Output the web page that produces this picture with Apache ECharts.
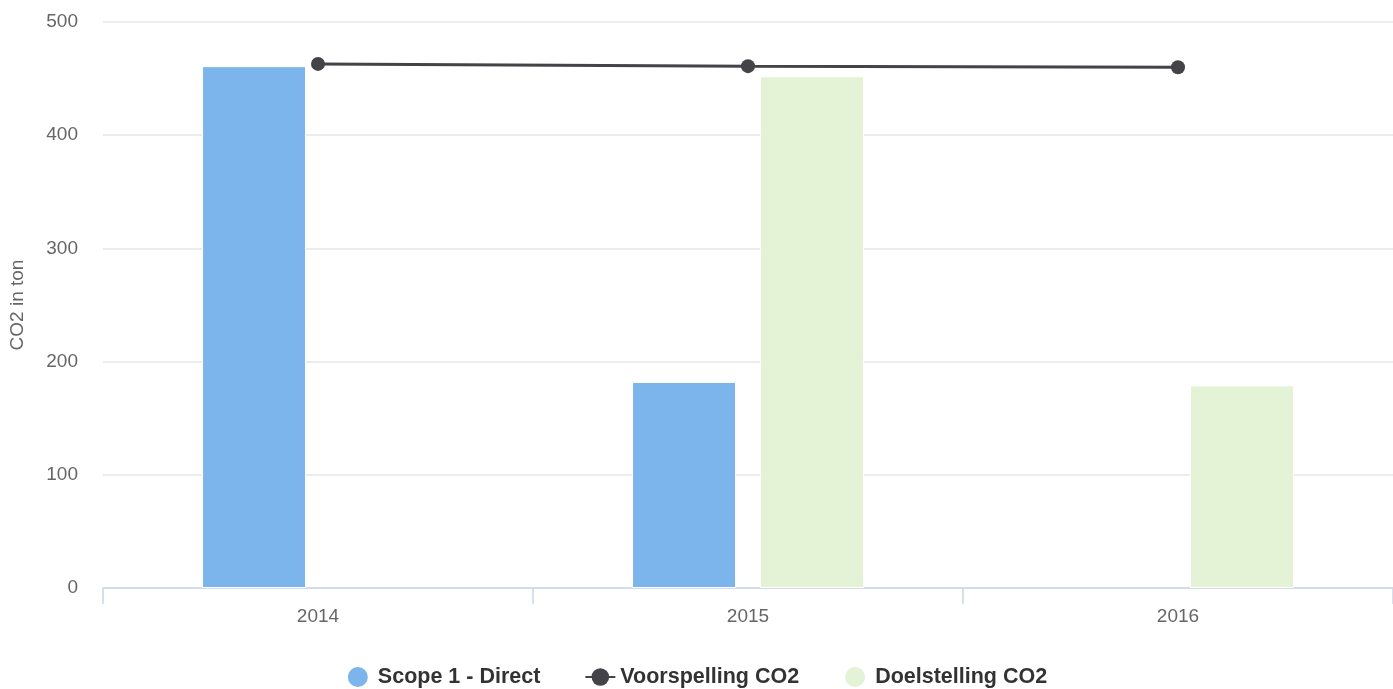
<!DOCTYPE html>
<html><head><meta charset="utf-8">
<script src="https://cdn.jsdelivr.net/npm/echarts@6/dist/echarts.min.js"></script>
<style>html,body{margin:0;padding:0;background:#fff}#c{width:1393px;height:689px}</style>
</head><body><div id="c"></div>
<script>
const categories = ['2014', '2015', '2016'];
const scope1 = [461, 182, null];
const voorspelling = [463, 461, 460];
const doelstelling = [null, 452, 179];
const yTicks = [0, 100, 200, 300, 400, 500];

const chart = echarts.init(document.getElementById('c'), null, {renderer: 'canvas'});
const font = '"Liberation Sans", Arial, sans-serif';
chart.setOption({
  animation: false,
  textStyle: {fontFamily: font},
  grid: {left: 103, right: 0, top: 22, bottom: 101, containLabel: false, outerBoundsMode: 'none'},
  legend: {
    top: 660, left: 'center', itemGap: 44, itemWidth: 30, itemHeight: 22,
    textStyle: {fontSize: 21.5, fontWeight: 'bold', color: '#333333', fontFamily: font},
    data: [
      {name: 'Scope 1 - Direct', icon: 'circle'},
      {name: 'Voorspelling CO2'},
      {name: 'Doelstelling CO2', icon: 'circle'}
    ]
  },
  xAxis: {
    type: 'category', data: categories,
    axisLine: {lineStyle: {color: '#ccd6eb', width: 1.5}},
    axisTick: {show: true, length: 16, lineStyle: {color: '#ccd6eb', width: 1.5}},
    axisLabel: {fontSize: 19, color: '#666666', margin: 19, fontFamily: font}
  },
  yAxis: {
    type: 'value', min: yTicks[0], max: yTicks[yTicks.length - 1], interval: 100,
    name: 'CO2 in ton', nameLocation: 'middle', nameGap: 76, nameRotate: 90,
    nameTextStyle: {fontSize: 19, color: '#666666', fontFamily: font},
    axisLine: {show: false}, axisTick: {show: false},
    axisLabel: {fontSize: 19, color: '#666666', margin: 25, fontFamily: font},
    splitLine: {lineStyle: {color: '#e6e6e6', width: 1.5}}
  },
  series: [
    {name: 'Scope 1 - Direct', type: 'bar', data: scope1, barWidth: 104, barGap: '23%',
     itemStyle: {color: '#7cb5ec', borderColor: '#ffffff', borderWidth: 1}},
    {name: 'Doelstelling CO2', type: 'bar', data: doelstelling, barWidth: 104, barGap: '23%',
     itemStyle: {color: '#e4f2d6', borderColor: '#ffffff', borderWidth: 1}},
    {name: 'Voorspelling CO2', type: 'line', data: voorspelling, symbol: 'circle', symbolSize: 14,
     lineStyle: {color: '#434348', width: 3}, itemStyle: {color: '#434348'}, z: 5}
  ]
});
</script></body></html>
